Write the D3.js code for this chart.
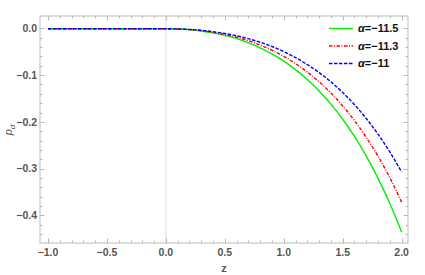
<!DOCTYPE html>
<html><head><meta charset="utf-8">
<script src="https://cdn.jsdelivr.net/npm/d3@7"></script>
<style>html,body{margin:0;padding:0;background:#fff;}svg{display:block;}</style>
</head><body>
<svg id="c" width="425" height="275"></svg>
<script>
const zVals = [-1.0,-0.9,-0.8,-0.7,-0.6,-0.5,-0.4,-0.3,-0.2,-0.1,0.0,0.1,0.2,0.3,0.4,0.5,0.6,0.7,0.8,0.9,1.0,1.1,1.2,1.3,1.4,1.5,1.6,1.7,1.8,1.9,2.0];
const pGreen = [-0.001,-0.001,-0.001,-0.001,-0.001,-0.001,-0.001,-0.001,-0.001,-0.001,-0.001,-0.0015,-0.0030,-0.0057,-0.0097,-0.0152,-0.0222,-0.0310,-0.0418,-0.0548,-0.0702,-0.0883,-0.1094,-0.1339,-0.1620,-0.1943,-0.2312,-0.2731,-0.3206,-0.3744,-0.4352];
const pRed = [-0.001,-0.001,-0.001,-0.001,-0.001,-0.001,-0.001,-0.001,-0.001,-0.001,-0.001,-0.0014,-0.0027,-0.0050,-0.0085,-0.0131,-0.0191,-0.0266,-0.0358,-0.0469,-0.0600,-0.0755,-0.0935,-0.1144,-0.1384,-0.1659,-0.1973,-0.2331,-0.2736,-0.3195,-0.3714];
const pBlue = [-0.001,-0.001,-0.001,-0.001,-0.001,-0.001,-0.001,-0.001,-0.001,-0.001,-0.001,-0.0013,-0.0024,-0.0043,-0.0072,-0.0110,-0.0160,-0.0222,-0.0298,-0.0389,-0.0498,-0.0626,-0.0775,-0.0947,-0.1145,-0.1373,-0.1633,-0.1928,-0.2263,-0.2643,-0.3071];
const seriesNames = ["α=−11.5","α=−11.3","α=−11"];
const xTicks = [-1.0,-0.5,0.0,0.5,1.0,1.5,2.0];
const xTickLabels = ["−1.0","−0.5","0.0","0.5","1.0","1.5","2.0"];
const yTicks = [0.0,-0.1,-0.2,-0.3,-0.4];
const yTickLabels = ["0.0","−0.1","−0.2","−0.3","−0.4"];

const svg = d3.select("#c");
const L=40, R=408, T=16, B=243;
const x = d3.scaleLinear().domain([-1.068,2.054]).range([L,R]);
const y = d3.scaleLinear().domain([-0.4588,0.0263]).range([B,T]);
const frameCol = "#b8b8b8";
const labCol = "#555";
const font = "'Liberation Sans', Arial, sans-serif";

// axis at z=0
svg.append("line").attr("x1",x(0)).attr("x2",x(0)).attr("y1",T).attr("y2",B)
  .attr("stroke","#dcdcdc").attr("stroke-width",1);

// frame
svg.append("rect").attr("x",L).attr("y",T).attr("width",R-L).attr("height",B-T)
  .attr("fill","none").attr("stroke",frameCol).attr("stroke-width",1);

// ticks
const xMinor = d3.range(-10,21).map(i=>i/10);
const yMinor = d3.range(0,23).map(i=>-i*0.02);
const isMajorX = v => xTicks.some(t=>Math.abs(t-v)<1e-9);
const isMajorY = v => yTicks.some(t=>Math.abs(t-v)<1e-9);
const tg = svg.append("g").attr("stroke",frameCol).attr("stroke-width",1);
xMinor.forEach(v=>{
  const len = isMajorX(v)?4.5:2.5;
  const px = Math.round(x(v))+0.5;
  tg.append("line").attr("x1",px).attr("x2",px).attr("y1",B).attr("y2",B-len);
  tg.append("line").attr("x1",px).attr("x2",px).attr("y1",T).attr("y2",T+len);
});
yMinor.forEach(v=>{
  if (y(v) < T || y(v) > B) return;
  const len = isMajorY(v)?4.5:2.5;
  const py = Math.round(y(v))+0.5;
  tg.append("line").attr("x1",L).attr("x2",L+len).attr("y1",py).attr("y2",py);
  tg.append("line").attr("x1",R).attr("x2",R-len).attr("y1",py).attr("y2",py);
});

// tick labels
xTicks.forEach((v,i)=>{
  svg.append("text").attr("x",x(v)).attr("y",256).attr("text-anchor","middle")
    .attr("font-family",font).attr("font-size",10.5).attr("font-weight","bold").attr("fill",labCol)
    .text(xTickLabels[i]);
});
yTicks.forEach((v,i)=>{
  svg.append("text").attr("x",37).attr("y",y(v)).attr("dy","0.35em").attr("text-anchor","end")
    .attr("font-family",font).attr("font-size",10.5).attr("font-weight","bold").attr("fill",labCol)
    .text(yTickLabels[i]);
});

// axis labels
svg.append("text").attr("x",224).attr("y",272).attr("text-anchor","middle")
  .attr("font-family",font).attr("font-size",11).attr("font-weight","bold").attr("fill",labCol).text("z");
const yl = svg.append("text").attr("transform","translate(12,130) rotate(-90)").attr("text-anchor","middle")
  .attr("font-family",font).attr("font-size",11).attr("fill",labCol);
yl.append("tspan").attr("font-style","italic").text("p");
yl.append("tspan").attr("font-style","italic").attr("font-size",8).attr("dy",2.5).text("d");

// curves
const series = [
  {vals:pGreen, color:"#00ee00", dash:null},
  {vals:pRed, color:"#ff0000", dash:"3.5,1.5,1,1.5"},
  {vals:pBlue, color:"#0000ff", dash:"3.5,1.5"}
];
const line = d3.line().x(d=>x(d[0])).y(d=>y(d[1])).curve(d3.curveMonotoneX);
series.forEach(s=>{
  const p = svg.append("path").attr("d", line(zVals.map((z,i)=>[z,s.vals[i]])))
    .attr("fill","none").attr("stroke",s.color).attr("stroke-width",1.4);
  if (s.dash) p.attr("stroke-dasharray",s.dash);
});

// legend
const legY = [28.5,46,63.5];
series.forEach((s,i)=>{
  const l = svg.append("line").attr("x1",329).attr("x2",353).attr("y1",legY[i]).attr("y2",legY[i])
    .attr("stroke",s.color).attr("stroke-width",1.4);
  if (s.dash) l.attr("stroke-dasharray",s.dash);
  const t = svg.append("text").attr("x",358).attr("y",legY[i]).attr("dy","0.35em")
    .attr("font-family",font).attr("font-size",11).attr("font-weight","bold").attr("fill","#111");
  t.append("tspan").attr("font-style","italic").text(seriesNames[i].slice(0,1));
  t.append("tspan").text(seriesNames[i].slice(1));
});
</script>
</body></html>
